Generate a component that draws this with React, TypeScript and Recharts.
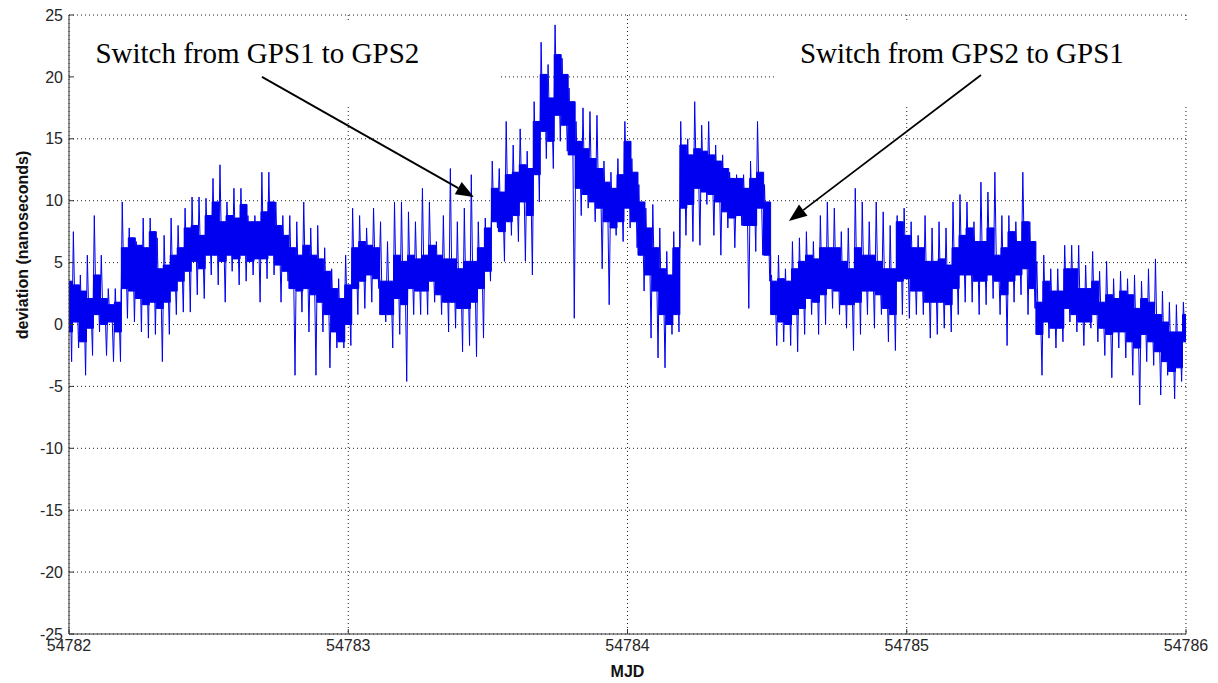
import React from "react";
import {
  Area,
  CartesianGrid,
  ComposedChart,
  Line,
  ReferenceArea,
  ReferenceLine,
  XAxis,
  YAxis
} from "recharts";

// sampling grid of the hand-read columns (one column every 0.025 day)
const START_MJD = 54782;
const STEP = 0.025;

// highest spike in each column (ns)
const spikeHigh = [
  5.9, 7.5, 4.0, 5.6, 8.8, 5.6, 2.9, 2.9, 9.9, 7.8,
  6.7, 8.6, 8.6, 7.0, 7.2, 8.6, 8.0, 9.4, 10.3, 10.3,
  10.2, 11.8, 12.9, 9.9, 11.0, 11.0, 8.8, 8.8, 12.3, 12.3,
  9.9, 8.8, 8.8, 8.3, 9.9, 7.8, 8.0, 6.2, 4.5, 3.7,
  5.6, 9.4, 8.8, 7.8, 9.4, 8.3, 6.7, 9.9, 9.9, 9.1,
  8.3, 11.0, 9.9, 6.7, 8.8, 12.6, 8.3, 9.4, 12.1, 8.3,
  8.6, 13.2, 12.6, 16.4, 14.5, 15.8, 14.0, 18.0, 22.8, 21.0,
  24.2, 21.5, 19.1, 16.4, 17.5, 17.2, 16.9, 13.2, 12.3, 13.4,
  16.4, 13.4, 11.3, 9.4, 9.7, 7.8, 5.9, 7.5, 16.4, 15.0,
  18.0, 16.1, 16.4, 14.5, 13.7, 12.3, 12.1, 12.1, 13.2, 16.4,
  11.3, 4.0, 5.6, 4.5, 6.7, 7.0, 7.5, 6.7, 8.8, 9.9,
  9.4, 7.5, 7.8, 11.0, 9.9, 8.3, 9.9, 9.1, 8.0, 8.8,
  9.4, 8.3, 7.2, 8.8, 7.8, 8.3, 7.8, 9.9, 10.5, 9.9,
  8.3, 11.5, 10.7, 12.3, 8.8, 8.8, 8.3, 12.3, 8.3, 5.1,
  5.6, 4.5, 4.5, 6.4, 6.4, 6.4, 4.8, 5.9, 4.3, 5.1,
  3.7, 4.3, 3.7, 4.0, 3.5, 4.5, 5.3, 2.7, 1.8, 1.6,
  1.8
];

// lowest spike in each column (ns)
const spikeLow = [
  -3.0, -1.9, -4.1, -2.5, -0.6, -2.5, -3.0, -3.0, 0.5, 0.2,
  -0.6, -1.1, -0.8, -3.0, -0.8, 0.8, 1.0, 1.0, 2.4, 2.1,
  4.0, 3.2, 1.8, 4.3, 3.2, 3.5, 4.0, 1.8, 3.7, 4.0,
  1.8, 3.5, -4.1, 1.0, -0.6, -4.1, -0.6, -3.5, -1.9, -1.9,
  -1.7, 0.8, 1.3, 1.8, 2.9, 0.2, -1.9, -0.8, -4.6, 0.8,
  0.8, 0.8, 1.8, 0.8, -0.6, -0.3, -2.2, -1.7, -2.6, -1.1,
  3.5, 7.8, 5.1, 7.2, 6.7, 5.1, 4.0, 9.9, 13.4, 12.6,
  14.8, 14.0, 0.5, 8.8, 9.4, 8.3, 4.5, 1.6, 7.2, 6.7,
  7.8, 6.2, 2.7, -1.1, -2.7, -3.5, -0.8, -0.6, 7.2, 6.7,
  6.4, 9.7, 7.2, 5.6, 7.8, 6.2, 8.0, 1.3, 5.9, 5.6,
  3.5, -1.7, -1.4, -1.7, -2.2, -0.8, 0.8, -0.8, 0.0, 1.3,
  0.8, -0.3, -2.1, -0.8, 0.8, -0.3, 0.8, -1.4, -2.1, 0.8,
  0.5, 0.8, 0.8, -1.1, -0.8, -0.3, -0.6, 0.8, 1.8, 1.8,
  0.8, 1.6, 2.1, 0.8, -1.7, 1.8, 2.4, 0.8, 1.3, -4.1,
  -1.1, -1.9, -1.4, 0.2, -0.6, -1.7, -0.3, -1.4, -2.5, -4.3,
  -1.9, -2.7, -4.1, -6.5, -3.0, -3.3, -5.7, -4.1, -6.0, -4.6,
  -2.5
];

// top and bottom of the dense part of the trace in each column (ns)
const coreHigh = [
  3.5, 3.2, 2.7, 2.1, 4.0, 2.1, 1.6, 1.8, 6.2, 7.0,
  6.4, 6.2, 7.5, 4.5, 4.8, 5.6, 6.2, 7.8, 8.0, 7.2,
  8.8, 9.9, 8.3, 8.8, 8.6, 9.7, 8.3, 8.3, 9.1, 9.9,
  8.0, 7.2, 6.2, 5.6, 6.4, 5.6, 5.3, 4.3, 2.9, 2.1,
  3.2, 6.2, 6.7, 6.4, 6.2, 3.5, 3.5, 5.6, 5.1, 5.6,
  5.3, 5.6, 6.4, 5.6, 5.3, 5.3, 4.5, 5.1, 5.1, 6.2,
  7.8, 11.0, 10.7, 12.1, 12.3, 12.9, 12.6, 16.4, 20.2, 18.3,
  21.8, 20.2, 18.0, 14.8, 14.2, 13.4, 12.6, 11.5, 11.0, 12.1,
  14.8, 12.3, 9.9, 7.8, 6.2, 4.5, 4.0, 6.2, 14.5, 13.7,
  14.2, 14.0, 13.7, 13.2, 12.6, 11.8, 11.8, 11.0, 11.8, 12.3,
  9.9, 3.5, 3.7, 3.5, 4.5, 5.1, 5.6, 5.3, 6.2, 6.2,
  6.2, 5.1, 4.5, 6.2, 5.6, 5.6, 5.1, 4.5, 4.5, 8.3,
  7.2, 6.2, 6.2, 5.1, 5.1, 5.3, 4.8, 6.2, 7.2, 7.8,
  6.7, 6.7, 7.8, 5.6, 6.2, 7.5, 6.7, 8.3, 6.7, 1.8,
  3.5, 2.7, 2.7, 4.5, 4.5, 2.9, 2.9, 3.5, 1.8, 2.4,
  2.1, 2.7, 2.4, 1.3, 2.1, 1.8, 0.8, 0.2, -0.6, -0.6,
  0.8
];

const coreLow = [
  -0.6, 0.2, -1.4, -0.3, 0.8, 0.0, 0.2, -0.6, 2.9, 2.7,
  2.1, 1.6, 1.8, 1.3, 1.8, 2.7, 3.5, 4.3, 5.1, 4.5,
  5.6, 5.6, 5.1, 5.6, 5.3, 5.6, 5.1, 5.3, 5.3, 5.6,
  4.8, 4.3, 2.9, 2.7, 2.9, 2.4, 1.8, 0.8, -0.6, -1.4,
  0.0, 2.9, 3.5, 4.0, 3.7, 0.8, 0.8, 2.1, 1.6, 2.9,
  2.7, 2.7, 3.5, 2.4, 1.8, 1.8, 1.3, 1.3, 1.8, 2.9,
  4.3, 8.3, 7.5, 8.3, 8.8, 9.9, 8.8, 12.1, 15.6, 14.8,
  16.9, 16.1, 13.7, 11.0, 10.5, 9.9, 9.4, 8.3, 7.8, 8.3,
  9.4, 8.3, 5.6, 4.0, 2.7, 0.8, 0.0, 0.8, 9.4, 9.7,
  11.0, 10.7, 10.5, 9.9, 9.1, 8.6, 8.8, 8.0, 8.0, 9.4,
  5.6, 0.8, 0.2, 0.0, 0.8, 1.3, 2.1, 1.8, 2.4, 2.9,
  2.7, 1.6, 1.6, 1.8, 2.7, 2.7, 2.4, 1.3, 0.8, 3.5,
  3.7, 2.7, 2.7, 1.8, 1.8, 1.8, 1.6, 2.9, 4.0, 4.0,
  3.5, 3.5, 4.0, 3.5, 2.4, 3.5, 4.0, 4.5, 2.9, -0.8,
  0.2, -0.3, -0.3, 1.3, 0.8, 0.2, 0.2, 0.8, -0.3, -0.8,
  -0.6, -0.6, -1.4, -1.9, -0.8, -1.4, -2.2, -3.0, -3.8, -3.5,
  -1.4
];

const xTicks = [54782, 54783, 54784, 54785, 54786];
const yTicks = [-25, -20, -15, -10, -5, 0, 5, 10, 15, 20, 25];

const notes = [
  { text: "Switch from GPS1 to GPS2", box: [54782.005, 54783.543], from: [54782.691, 20.0], to: [54783.45, 10.3] },
  { text: "Switch from GPS2 to GPS1", box: [54784.528, 54786.02], from: [54785.266, 20.15], to: [54784.578, 8.36] }
];

const bandData = coreHigh.map((hi, i) => ({
  mjd: START_MJD + i * STEP,
  band: [coreLow[i], hi]
}));

// each column: up spike, dense part, down spike
const traceData = spikeHigh.flatMap((hi, i) => {
  const x = START_MJD + i * STEP;
  return [
    { mjd: x - 0.375 * STEP, dev: hi },
    { mjd: x - 0.125 * STEP, dev: coreLow[i] },
    { mjd: x + 0.125 * STEP, dev: coreHigh[i] },
    { mjd: x + 0.375 * STEP, dev: spikeLow[i] }
  ];
});

const BLUE = "#0000f0";
const SANS = "'Liberation Sans', Arial, sans-serif";
const SERIF = "'Liberation Serif', 'Times New Roman', serif";

function Arrow(props: any) {
  const { x1, y1, x2, y2 } = props;
  const dx = x2 - x1;
  const dy = y2 - y1;
  const len = Math.sqrt(dx * dx + dy * dy);
  const ux = dx / len;
  const uy = dy / len;
  const bx = x2 - ux * 18;
  const by = y2 - uy * 18;
  const hw = 7;
  return (
    <g>
      <line x1={x1} y1={y1} x2={bx} y2={by} stroke="#000" strokeWidth={1.8} />
      <polygon
        points={`${x2},${y2} ${bx - uy * hw},${by + ux * hw} ${bx + uy * hw},${by - ux * hw}`}
        fill="#000"
      />
    </g>
  );
}

export default function App() {
  return (
    <div>
      <style>{"body{margin:0;background:#fff}"}</style>
      <ComposedChart
        width={1218}
        height={683}
        margin={{ top: 15, right: 32, bottom: 0, left: 0 }}
        style={{ fontFamily: SANS }}
      >
        <CartesianGrid stroke="#222" strokeDasharray="1 3" />
        <XAxis
          dataKey="mjd"
          type="number"
          domain={[54782, 54786]}
          allowDataOverflow
          ticks={xTicks}
          height={49}
          stroke="#333"
          tickSize={-5}
          tickMargin={11}
          tick={{ fill: "#262626", fontSize: 16 }}
          label={{ value: "MJD", position: "insideBottom", offset: 6, fill: "#111", fontSize: 16, fontWeight: "bold" }}
        />
        <YAxis
          type="number"
          domain={[-25, 25]}
          ticks={yTicks}
          width={69}
          stroke="#333"
          tickSize={-5}
          tickMargin={11}
          tick={{ fill: "#262626", fontSize: 16 }}
          label={{
            content: () => (
              <text
                x={22}
                y={245}
                transform="rotate(-90 22 245)"
                textAnchor="middle"
                dominantBaseline="central"
                fill="#111"
                fontSize={16}
                fontWeight="bold"
                fontFamily={SANS}
              >
                deviation (nanoseconds)
              </text>
            )
          }}
        />
        {notes.map((n) => (
          <ReferenceArea
            key={n.text}
            x1={n.box[0]}
            x2={n.box[1]}
            y1={17.73}
            y2={24.6}
            ifOverflow="visible"
            fill="#fff"
            fillOpacity={1}
            stroke="none"
            label={{
              content: (p: any) => (
                <text x={p.viewBox.x + 25} y={p.viewBox.y + 43} fontFamily={SERIF} fontSize={29} fill="#000">
                  {n.text}
                </text>
              )
            }}
          />
        ))}
        <Area
          data={bandData}
          dataKey="band"
          type="step"
          stroke={BLUE}
          strokeWidth={1}
          fill={BLUE}
          fillOpacity={1}
          isAnimationActive={false}
        />
        <Line
          data={traceData}
          dataKey="dev"
          type="linear"
          stroke={BLUE}
          strokeWidth={1}
          dot={false}
          activeDot={false}
          isAnimationActive={false}
        />
        {notes.map((n) => (
          <ReferenceLine
            key={n.text + "-arrow"}
            segment={[
              { x: n.from[0], y: n.from[1] },
              { x: n.to[0], y: n.to[1] }
            ]}
            shape={Arrow}
          />
        ))}
      </ComposedChart>
    </div>
  );
}
